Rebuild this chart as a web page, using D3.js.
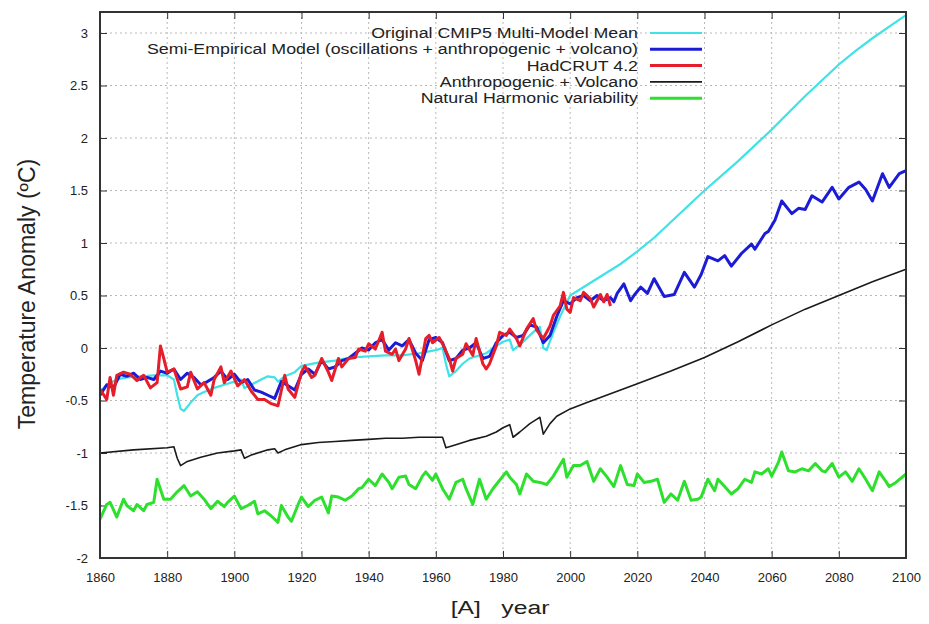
<html>
<head>
<meta charset="UTF-8">
<title>Temperature Anomaly</title>
<script src="https://d3js.org/d3.v7.min.js"></script>
<style>
  body { margin: 0; background: #fff; }
  svg { display: block; font-family: "Liberation Sans", Arial, sans-serif; }
  .grid line { stroke: #b8b8b8; stroke-width: 1; stroke-dasharray: 2,3; }
  .tick text { font-size: 13px; fill: #222; }
</style>
</head>
<body>
<svg width="929" height="624"></svg>
<script>
// ---- data: [year, anomaly] ----
var cmip5 = [
  [1860,-0.42],[1862,-0.35],[1865,-0.30],[1868,-0.28],[1872,-0.27],[1876,-0.26],[1880,-0.26],
  [1882,-0.30],[1883,-0.45],[1884,-0.58],[1885,-0.60],[1887,-0.52],[1889,-0.45],[1891,-0.42],
  [1894,-0.38],[1897,-0.35],[1900,-0.32],[1902,-0.30],[1903,-0.38],[1905,-0.35],[1908,-0.30],
  [1910,-0.27],[1912,-0.28],[1913,-0.32],[1915,-0.27],[1918,-0.23],[1920,-0.17],[1925,-0.14],
  [1930,-0.12],[1935,-0.09],[1940,-0.08],[1945,-0.07],[1950,-0.07],[1955,-0.05],[1960,-0.02],
  [1962,0.00],[1963,-0.15],[1964,-0.27],[1966,-0.22],[1968,-0.15],[1970,-0.10],[1975,-0.05],
  [1978,0.02],[1980,0.06],[1982,0.08],[1983,-0.02],[1985,0.03],[1988,0.12],[1990,0.18],
  [1991,0.20],[1992,0.00],[1993,-0.02],[1995,0.15],[1997,0.30],[2000,0.50],
  [2005,0.60],[2010,0.70],[2015,0.80],[2020,0.92],[2025,1.05],[2030,1.20],[2035,1.35],
  [2040,1.50],[2045,1.64],[2050,1.78],[2055,1.93],[2060,2.08],[2065,2.24],[2070,2.40],
  [2075,2.55],[2080,2.70],[2085,2.83],[2090,2.95],[2095,3.06],[2100,3.17]
];
var semiEmp = [
  [1860,-0.45],[1862,-0.35],[1864,-0.38],[1866,-0.25],[1868,-0.27],[1870,-0.24],[1872,-0.30],
  [1874,-0.28],[1876,-0.30],[1878,-0.22],[1880,-0.24],[1882,-0.20],[1884,-0.30],[1886,-0.24],
  [1888,-0.28],[1890,-0.35],[1892,-0.32],[1894,-0.28],[1896,-0.22],[1898,-0.30],[1900,-0.25],
  [1902,-0.33],[1904,-0.30],[1906,-0.40],[1908,-0.42],[1910,-0.45],[1912,-0.48],[1914,-0.32],
  [1916,-0.36],[1918,-0.40],[1920,-0.25],[1922,-0.20],[1924,-0.25],[1926,-0.12],[1928,-0.20],
  [1930,-0.18],[1932,-0.12],[1934,-0.10],[1936,-0.05],[1938,0.00],[1940,-0.02],[1942,0.05],
  [1944,0.08],[1946,-0.02],[1948,0.05],[1950,0.02],[1952,0.08],[1954,-0.05],[1956,-0.12],
  [1958,0.08],[1960,0.10],[1962,0.05],[1964,-0.12],[1966,-0.10],[1968,-0.02],[1970,0.00],
  [1972,0.05],[1974,-0.10],[1976,-0.08],[1978,0.05],[1980,0.12],[1982,0.15],[1984,0.10],
  [1986,0.12],[1988,0.22],[1990,0.20],[1992,0.05],[1994,0.12],[1996,0.30],[1998,0.45],
  [2000,0.42],[2002,0.48],[2004,0.50],[2006,0.45],[2008,0.50],[2010,0.45],[2012,0.48],
  [2013,0.44],[2014,0.52],[2016,0.61],[2018,0.45],[2019,0.50],[2021,0.58],[2023,0.52],
  [2025,0.66],[2028,0.49],[2031,0.51],[2034,0.72],[2037,0.58],[2039,0.70],[2041,0.87],
  [2044,0.83],[2046,0.88],[2048,0.78],[2051,0.90],[2054,0.99],[2055,0.94],[2058,1.09],
  [2059,1.11],[2061,1.22],[2063,1.40],[2066,1.28],[2068,1.33],[2070,1.32],[2072,1.45],
  [2075,1.39],[2078,1.53],[2080,1.42],[2083,1.53],[2086,1.58],[2088,1.51],[2090,1.40],
  [2093,1.66],[2095,1.53],[2098,1.66],[2100,1.69]
];
var hadcrut = [
  [1860,-0.39],[1862,-0.49],[1863,-0.28],[1864,-0.45],[1865,-0.26],[1867,-0.23],[1869,-0.25],
  [1871,-0.31],[1873,-0.26],[1875,-0.38],[1877,-0.33],[1878,0.02],[1879,-0.10],[1880,-0.23],
  [1882,-0.20],[1884,-0.39],[1886,-0.37],[1887,-0.23],[1889,-0.39],[1891,-0.33],[1893,-0.45],
  [1894,-0.30],[1896,-0.18],[1897,-0.33],[1899,-0.22],[1901,-0.36],[1903,-0.30],[1905,-0.41],
  [1907,-0.49],[1909,-0.49],[1911,-0.53],[1913,-0.55],[1915,-0.26],[1916,-0.39],[1918,-0.47],
  [1920,-0.23],[1921,-0.17],[1923,-0.28],[1924,-0.26],[1926,-0.10],[1928,-0.23],[1929,-0.31],
  [1931,-0.10],[1932,-0.18],[1934,-0.10],[1936,-0.09],[1937,-0.01],[1939,-0.03],[1940,0.04],
  [1942,-0.01],[1944,0.15],[1945,-0.03],[1947,-0.06],[1948,-0.01],[1949,-0.12],[1951,-0.01],
  [1952,0.09],[1954,-0.12],[1955,-0.25],[1957,0.09],[1958,0.12],[1959,0.05],[1961,0.10],
  [1962,0.04],[1964,-0.10],[1965,-0.22],[1966,-0.10],[1968,-0.06],[1969,0.04],[1971,-0.07],
  [1972,0.09],[1974,-0.15],[1975,-0.20],[1976,-0.15],[1978,0.02],[1979,0.15],[1981,0.12],
  [1982,0.18],[1984,0.09],[1985,0.02],[1987,0.18],[1989,0.28],[1990,0.17],[1992,0.09],
  [1994,0.21],[1995,0.31],[1997,0.40],[1998,0.53],[1999,0.37],[2000,0.34],[2001,0.48],
  [2003,0.45],[2004,0.53],[2006,0.47],[2007,0.39],[2009,0.51],[2010,0.44],[2011,0.51],[2012,0.40]
];
var anthroVolc = [
  [1860,-1.00],[1870,-0.97],[1880,-0.95],[1882,-0.94],[1883,-1.05],[1884,-1.12],[1886,-1.08],
  [1890,-1.04],[1895,-1.00],[1900,-0.98],[1902,-0.97],[1903,-1.05],[1905,-1.02],[1910,-0.97],
  [1912,-0.96],[1913,-1.00],[1915,-0.97],[1920,-0.92],[1925,-0.90],[1930,-0.89],[1935,-0.88],
  [1940,-0.87],[1945,-0.86],[1950,-0.86],[1955,-0.85],[1960,-0.85],[1962,-0.85],[1963,-0.95],
  [1965,-0.93],[1970,-0.88],[1975,-0.84],[1978,-0.80],[1980,-0.76],[1982,-0.73],[1983,-0.85],
  [1985,-0.80],[1988,-0.72],[1990,-0.68],[1991,-0.66],[1992,-0.82],[1994,-0.72],[1996,-0.65],
  [2000,-0.58],[2005,-0.52],[2010,-0.46],[2015,-0.40],[2020,-0.34],[2030,-0.22],[2040,-0.09],
  [2050,0.06],[2060,0.22],[2070,0.37],[2080,0.50],[2090,0.63],[2100,0.75]
];
var natural = [
  [1860,-1.63],[1862,-1.49],[1863,-1.47],[1865,-1.61],[1867,-1.44],[1868,-1.50],[1870,-1.55],
  [1871,-1.49],[1873,-1.55],[1874,-1.49],[1876,-1.47],[1877,-1.25],[1879,-1.44],[1881,-1.44],
  [1883,-1.37],[1885,-1.31],[1887,-1.41],[1889,-1.37],[1891,-1.44],[1893,-1.53],[1895,-1.46],
  [1897,-1.51],[1898,-1.47],[1900,-1.41],[1902,-1.53],[1904,-1.50],[1906,-1.46],[1907,-1.58],
  [1909,-1.55],[1911,-1.60],[1913,-1.66],[1914,-1.50],[1916,-1.61],[1917,-1.65],[1919,-1.49],
  [1920,-1.42],[1922,-1.51],[1924,-1.45],[1926,-1.42],[1928,-1.57],[1929,-1.41],[1931,-1.42],
  [1933,-1.45],[1935,-1.41],[1937,-1.34],[1938,-1.33],[1940,-1.25],[1942,-1.31],[1944,-1.20],
  [1946,-1.28],[1947,-1.34],[1949,-1.23],[1951,-1.22],[1952,-1.30],[1954,-1.34],[1956,-1.22],
  [1957,-1.18],[1959,-1.26],[1960,-1.20],[1962,-1.34],[1964,-1.44],[1966,-1.28],[1968,-1.25],
  [1969,-1.34],[1971,-1.49],[1973,-1.25],[1975,-1.44],[1977,-1.34],[1979,-1.26],[1981,-1.18],
  [1982,-1.23],[1984,-1.30],[1985,-1.39],[1987,-1.20],[1989,-1.27],[1991,-1.28],[1993,-1.30],
  [1995,-1.22],[1998,-1.06],[1999,-1.23],[2001,-1.12],[2003,-1.12],[2005,-1.08],[2007,-1.27],
  [2009,-1.15],[2011,-1.23],[2013,-1.32],[2015,-1.12],[2017,-1.30],[2019,-1.31],[2020,-1.20],
  [2022,-1.28],[2024,-1.27],[2026,-1.25],[2028,-1.47],[2030,-1.39],[2032,-1.45],[2034,-1.27],
  [2036,-1.45],[2038,-1.44],[2039,-1.42],[2041,-1.25],[2043,-1.36],[2044,-1.25],[2046,-1.32],
  [2048,-1.39],[2050,-1.34],[2052,-1.25],[2054,-1.28],[2055,-1.18],[2057,-1.20],[2059,-1.15],
  [2060,-1.22],[2062,-1.09],[2063,-0.99],[2065,-1.17],[2067,-1.18],[2069,-1.15],[2071,-1.17],
  [2073,-1.10],[2075,-1.17],[2076,-1.18],[2078,-1.10],[2080,-1.23],[2082,-1.18],[2084,-1.27],
  [2086,-1.15],[2088,-1.25],[2090,-1.36],[2092,-1.18],[2094,-1.27],[2095,-1.32],[2097,-1.28],
  [2100,-1.20]
];

var xTicks = [1860,1880,1900,1920,1940,1960,1980,2000,2020,2040,2060,2080,2100];
var yTicks = [-2,-1.5,-1,-0.5,0,0.5,1,1.5,2,2.5,3];
var seriesNames = [
  "Original CMIP5 Multi-Model Mean",
  "Semi-Empirical Model (oscillations + anthropogenic + volcano)",
  "HadCRUT 4.2",
  "Anthropogenic + Volcano",
  "Natural Harmonic variability"
];
var seriesColors = ["#3fe2e6","#1c1cd6","#e61e2a","#1a1a1a","#2ee02e"];
var seriesWidths = [2.2,3,3,1.6,3];
var seriesData = [cmip5, semiEmp, hadcrut, anthroVolc, natural];

// plot box (window.top is reserved, so use own names)
var plotL = 100, plotR = 906, plotT = 12, plotB = 558;

var svg = d3.select("svg");

var xScale = d3.scaleLinear().domain([1860,2100]).range([plotL,plotR]);
var yScale = d3.scaleLinear().domain([-2,3.2]).range([plotB,plotT]);

// grid
var grid = svg.append("g").classed("grid",true);
grid.selectAll(".gx")
  .data(xTicks.slice(1,-1))
  .enter().append("line")
  .attr("x1",function(d){return xScale(d);})
  .attr("x2",function(d){return xScale(d);})
  .attr("y1",plotT).attr("y2",plotB);
grid.selectAll(".gy")
  .data(yTicks.slice(1))
  .enter().append("line")
  .attr("y1",function(d){return yScale(d);})
  .attr("y2",function(d){return yScale(d);})
  .attr("x1",plotL).attr("x2",plotR);

// axes, ticks point inward like gnuplot, mirrored on top/right
var fmt = function(d){ return String(d); };
svg.append("g")
  .attr("transform","translate(0,"+plotB+")")
  .call(d3.axisBottom(xScale).tickValues(xTicks).tickSize(-7).tickPadding(15).tickFormat(fmt))
  .call(function(g){ g.select(".domain").remove(); });
svg.append("g")
  .attr("transform","translate(0,"+plotT+")")
  .call(d3.axisTop(xScale).tickValues(xTicks).tickSize(-7).tickFormat(""))
  .call(function(g){ g.select(".domain").remove(); });
svg.append("g")
  .attr("transform","translate("+plotL+",0)")
  .call(d3.axisLeft(yScale).tickValues(yTicks).tickSize(-7).tickPadding(12).tickFormat(fmt))
  .call(function(g){ g.select(".domain").remove(); });
svg.append("g")
  .attr("transform","translate("+plotR+",0)")
  .call(d3.axisRight(yScale).tickValues(yTicks).tickSize(-7).tickFormat(""))
  .call(function(g){ g.select(".domain").remove(); });
svg.selectAll(".tick line").attr("stroke","#333").attr("stroke-width",1);

// series
var line = d3.line()
  .x(function(d){return xScale(d[0]);})
  .y(function(d){return yScale(d[1]);});

var plot = svg.append("g");
seriesData.forEach(function(s,i){
  plot.append("path")
    .datum(s)
    .attr("d",line)
    .attr("fill","none")
    .attr("stroke",seriesColors[i])
    .attr("stroke-width",seriesWidths[i])
    .attr("stroke-linejoin","round");
});

// frame
svg.append("rect")
  .attr("x",plotL).attr("y",plotT)
  .attr("width",plotR-plotL).attr("height",plotB-plotT)
  .attr("fill","none").attr("stroke","#333").attr("stroke-width",2);

// legend (text is wide in the original, so stretch it sideways)
var legend = svg.append("g").attr("transform","translate(0,33)");
var rows = legend.selectAll("g")
  .data(seriesNames)
  .enter().append("g")
  .attr("transform",function(d,i){ return "translate(0,"+(i*16.3)+")"; });
rows.append("text")
  .attr("transform","translate(638,0) scale(1.27,1)")
  .attr("dy","0.35em")
  .attr("text-anchor","end")
  .attr("font-size",14).attr("fill","#222")
  .text(function(d){return d;});
rows.append("line")
  .attr("x1",650).attr("x2",702).attr("y1",0).attr("y2",0)
  .attr("stroke",function(d,i){return seriesColors[i];})
  .attr("stroke-width",function(d,i){return seriesWidths[i];});

// axis titles
svg.append("text")
  .attr("transform","translate(35,294) rotate(-90)")
  .attr("text-anchor","middle")
  .attr("font-size",23).attr("fill","#222")
  .text("Temperature Anomaly (ºC)");
svg.append("text")
  .attr("transform","translate(500,614) scale(1.3,1)")
  .attr("text-anchor","middle")
  .attr("font-size",19).attr("fill","#222")
  .style("white-space","pre")
  .text("[A]   year");
</script>
</body>
</html>
